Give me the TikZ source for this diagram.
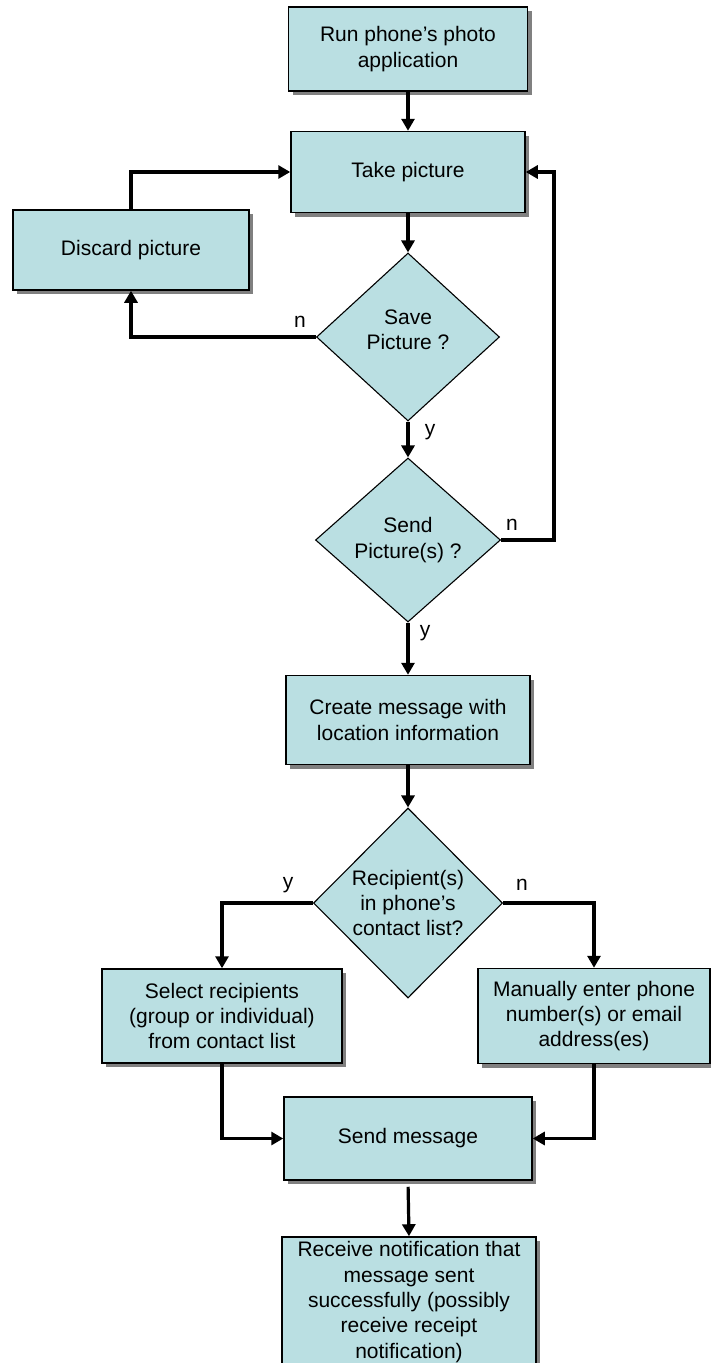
\documentclass[tikz,border=0pt]{standalone}
\usepackage{fontspec}
\setmainfont{Liberation Sans}
\usetikzlibrary{shapes.geometric,arrows.meta,shadows}
\definecolor{boxfill}{RGB}{186,223,226}
\definecolor{shadowgray}{RGB}{128,128,128}
\begin{document}
\begin{tikzpicture}[x=1pt,y=-1pt,
  font=\fontsize{21}{25.3}\selectfont,
  stepbox/.style={rectangle, draw=black, line width=1.5pt, fill=boxfill,
    align=center, inner sep=0pt,
    drop shadow={shadow xshift=4pt, shadow yshift=-4pt, fill=shadowgray, opacity=1}},
  decision/.style={diamond, draw=black, line width=1.1pt, fill=boxfill,
    align=center, inner sep=0pt},
  flow/.style={line width=3.2pt, -{Triangle[length=12pt,width=13pt]}},
  tag/.style={inner sep=0pt, align=center}]

\clip (0,0) rectangle (711,1363);

% process boxes and decisions
\node[stepbox, minimum width=239, minimum height=84] (run) at (408,49) {Run phone’s photo\\application};
\node[stepbox, minimum width=234, minimum height=81] (take) at (408,172) {Take picture};
\node[stepbox, minimum width=236, minimum height=80] (discard) at (131,250) {Discard picture};
\node[decision, minimum width=183, minimum height=168] (save) at (408,337) {};
\node[tag] (savetext) at (408,330) {Save\\Picture ?};
\node[decision, minimum width=185, minimum height=164] (send) at (408,540) {Send\\Picture(s) ?};
\node[stepbox, minimum width=244, minimum height=89] (create) at (408,720) {Create message with\\location information};
\node[decision, minimum width=189, minimum height=190] (recip) at (408,903) {Recipient(s)\\in phone’s\\contact list?};
\node[stepbox, minimum width=240, minimum height=94] (select) at (222,1016) {Select recipients\\(group or individual)\\from contact list};
\node[stepbox, minimum width=232, minimum height=95] (manual) at (594,1016) {Manually enter phone\\number(s) or email\\address(es)};
\node[stepbox, minimum width=248, minimum height=83] (sendmsg) at (408,1138.5) {Send message};
\node[stepbox, minimum width=254, minimum height=130] (receive) at (409,1302) {Receive notification that\\message sent\\successfully (possibly\\receive receipt\\notification)};

% branch labels
\node[tag] (ln1) at (300,322) {n};
\node[tag] (ly1) at (430,432) {y};
\node[tag] (ln2) at (512,525) {n};
\node[tag] (ly2) at (425,633) {y};
\node[tag] (ly3) at (288,885) {y};
\node[tag] (ln3) at (522,885) {n};

% return path on the right
\coordinate (rloop) at (554,172);

% connectors
\draw[flow] (run.south) -- (take.north);
\draw[flow] (take.south) -- (save.north);
\draw[flow] (save.west) -| (discard.south);
\draw[flow] (discard.north) |- (take.west);
\draw[flow] (save.south) -- (send.north);
\draw[flow] (send.east) -- (send.east -| rloop) -- (rloop |- take.east) -- (take.east);
\draw[flow] (send.south) -- (create.north);
\draw[flow] (create.south) -- (recip.north);
\draw[flow] (recip.west) -| (select.north);
\draw[flow] (recip.east) -| (manual.north);
\draw[flow] (select.south) |- (sendmsg.west);
\draw[flow] (manual.south) |- (sendmsg.east);
\draw[flow, shorten <=6pt] (sendmsg.south) -- (receive.north);
\end{tikzpicture}
\end{document}
